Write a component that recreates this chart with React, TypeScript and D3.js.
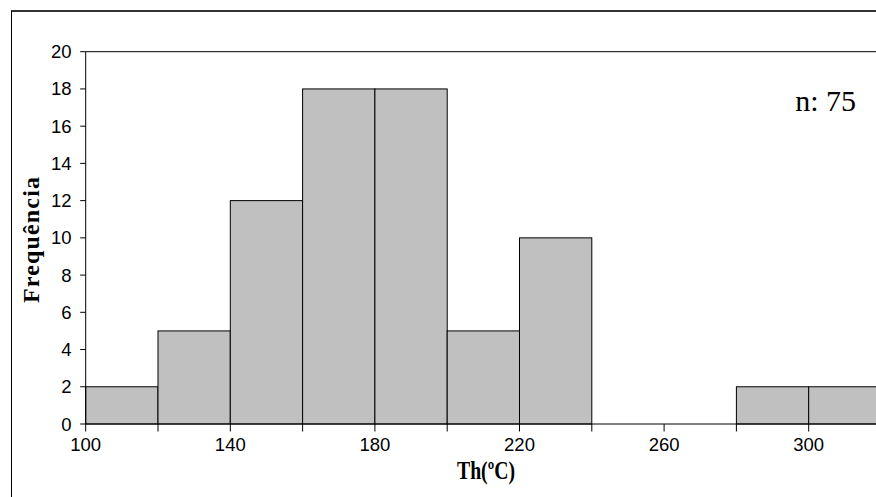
import React from "react";
import * as d3 from "d3";

const binStarts = [100, 120, 140, 160, 180, 200, 220, 240, 260, 280, 300];
const binWidth = 20;
const counts = [2, 5, 12, 18, 18, 5, 10, 0, 0, 2, 2];
const xTickValues = [100, 120, 140, 160, 180, 200, 220, 240, 260, 280, 300, 320];
const xTickLabels = [100, 140, 180, 220, 260, 300];
const yTickValues = [0, 2, 4, 6, 8, 10, 12, 14, 16, 18, 20];
const sampleLabel = "n: 75";
const xTitle = "Th(ºC)";
const yTitle = "Frequência";

export default function App() {
  const W = 876;
  const H = 497;
  const left = 85.7;
  const top = 51.7;
  const bottom = 424;
  const x = d3.scaleLinear().domain([100, 320]).range([left, 881]);
  const y = d3.scaleLinear().domain([0, 20]).range([bottom, top]);
  const arial = "Arial, 'Liberation Sans', sans-serif";
  const times = "'Times New Roman', 'Liberation Serif', serif";

  return (
    <svg
      width={W}
      height={H}
      style={{ position: "absolute", left: 0, top: 0, display: "block", background: "#fff" }}
    >
      {/* outer frame */}
      <line x1={11} y1={11} x2={W} y2={11} stroke="#333" strokeWidth={2} />
      <line x1={11.5} y1={11} x2={11.5} y2={H} stroke="#000" strokeWidth={1} />

      {/* plot frame top */}
      <line x1={left} y1={top} x2={W} y2={top} stroke="#000" strokeWidth={1} />

      {/* bars */}
      {binStarts.map((b, i) =>
        counts[i] > 0 ? (
          <rect
            key={b}
            x={x(b)}
            y={y(counts[i])}
            width={x(b + binWidth) - x(b)}
            height={y(0) - y(counts[i])}
            fill="#c0c0c0"
            stroke="#000"
            strokeWidth={1}
          />
        ) : null
      )}

      {/* y axis */}
      <line x1={left} y1={top} x2={left} y2={bottom} stroke="#000" strokeWidth={1} />
      {yTickValues.map((v) => (
        <g key={v}>
          <line x1={left - 5.5} x2={left} y1={y(v)} y2={y(v)} stroke="#000" strokeWidth={1} />
          <text
            x={71.5}
            y={y(v) + 6.5}
            textAnchor="end"
            fontFamily={arial}
            fontSize={18.5}
            fill="#000"
          >
            {v}
          </text>
        </g>
      ))}

      {/* x axis */}
      <line x1={left} y1={bottom} x2={W} y2={bottom} stroke="#000" strokeWidth={1} />
      {xTickValues.map((v) => (
        <line key={v} x1={x(v)} x2={x(v)} y1={bottom} y2={bottom + 7.5} stroke="#000" strokeWidth={1} />
      ))}
      {xTickLabels.map((v) => (
        <text
          key={v}
          x={x(v)}
          y={450.5}
          textAnchor="middle"
          fontFamily={arial}
          fontSize={18.5}
          fill="#000"
        >
          {v}
        </text>
      ))}

      {/* titles */}
      <text
        x={486}
        y={479}
        textAnchor="middle"
        fontFamily={times}
        fontWeight="bold"
        fontSize={25}
        textLength={58}
        lengthAdjust="spacingAndGlyphs"
        fill="#000"
      >
        {xTitle}
      </text>
      <text
        transform={`translate(38.5,240) rotate(-90)`}
        textAnchor="middle"
        fontFamily={times}
        fontWeight="bold"
        fontSize={24}
        textLength={126}
        lengthAdjust="spacing"
        fill="#000"
      >
        {yTitle}
      </text>

      <text
        x={856}
        y={110.5}
        textAnchor="end"
        fontFamily={times}
        fontSize={30}
        fill="#000"
      >
        {sampleLabel}
      </text>
    </svg>
  );
}
